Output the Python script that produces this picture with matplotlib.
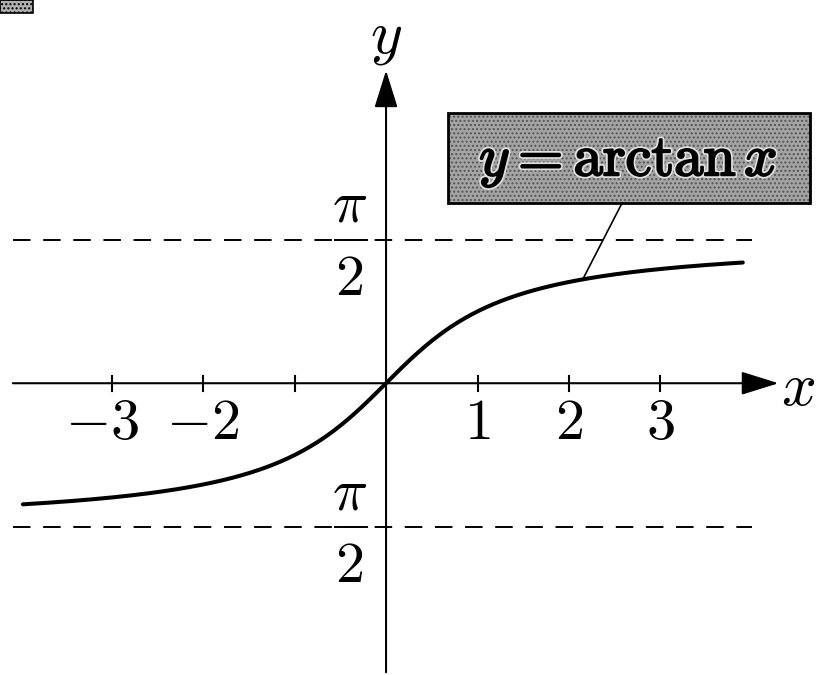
import numpy as np
import matplotlib
matplotlib.use("Agg")
import matplotlib.pyplot as plt
import matplotlib.patheffects as pe
from matplotlib.patches import Rectangle

plt.rcParams["mathtext.fontset"] = "cm"
plt.rcParams["font.family"] = "serif"
plt.rcParams["font.serif"] = ["DejaVu Serif"]

# --- data -------------------------------------------------------------
x_ticks = [-3, -2, -1, 1, 2, 3]
x_tick_labels = [r"$-3$", r"$-2$", "", r"$1$", r"$2$", r"$3$"]
curve_x = np.linspace(-3.97, 3.9, 400)
curve_y = np.arctan(curve_x)
asymptotes = [np.pi / 2, -np.pi / 2]
asym_labels = [r"$\pi$", r"$2$"]
label_point_x = 2.15          # where the leader line meets the curve

# view window in data units (1 unit ~ 91.5 px)
xlim = (-4.22, 4.70)
ylim = (-3.19, 4.19)

fig = plt.figure(figsize=(8.16, 6.75), dpi=100)
ax = fig.add_axes([0, 0, 1, 1])
ax.set_xlim(*xlim)
ax.set_ylim(*ylim)
ax.axis("off")

# axes with arrow heads
arrow = dict(arrowstyle="-|>,head_length=0.8,head_width=0.25",
             mutation_scale=29, lw=1.5, color="black", shrinkA=0, shrinkB=0)
ax.annotate("", xy=(4.29, 0), xytext=(-4.08, 0), arrowprops=arrow)
ax.annotate("", xy=(0, 3.42), xytext=(0, -3.16), arrowprops=arrow)

# tick marks and labels
for t, lab in zip(x_ticks, x_tick_labels):
    ax.plot([t, t], [-0.08, 0.08], color="black", lw=1.5)
    if lab:
        shift = -0.1 if t == -3 else 0.0
        ax.text(t + shift, -0.44, lab, ha="center", va="center", fontsize=42)

# dashed asymptotes with fraction-style labels
for a in asymptotes:
    ax.plot([-4.08, 4.0], [a, a], color="black", lw=1.4, dashes=(9, 6.5))
    ax.plot([-0.56, -0.21], [a, a], color="black", lw=1.4)
    ax.text(-0.4, a + 0.37, asym_labels[0], ha="center", va="center", fontsize=42)
    ax.text(-0.4, a - 0.43, asym_labels[1], ha="center", va="center", fontsize=42)

# the curve
ax.plot(curve_x, curve_y, color="black", lw=2.9, solid_capstyle="round")

# axis names
ax.text(0.0, 3.79, r"$y$", ha="center", va="center", fontsize=44)
ax.text(4.5, -0.05, r"$x$", ha="center", va="center", fontsize=44)

# shaded label box with leader line
box_x0, box_x1 = 0.68, 4.63
box_y0, box_y1 = 1.97, 2.96
ax.add_patch(Rectangle((box_x0, box_y0), box_x1 - box_x0, box_y1 - box_y0,
                       facecolor="#a4a4a4", edgecolor="#555555", hatch="....",
                       lw=0, zorder=3))
ax.add_patch(Rectangle((box_x0, box_y0), box_x1 - box_x0, box_y1 - box_y0,
                       facecolor="none", edgecolor="black", lw=2.0, zorder=4))
ax.text((box_x0 + box_x1) / 2 - 0.01, 2.43, r"$y = \mathrm{arctan}\, x$",
        ha="center", va="center", fontsize=42, zorder=5,
        path_effects=[pe.Stroke(linewidth=4, foreground="#e0e0e0"),
                      pe.Stroke(linewidth=1.5, foreground="black"),
                      pe.Normal()])
ax.plot([2.58, label_point_x], [box_y0, np.arctan(label_point_x)],
        color="black", lw=1.2)

# little scan mark in the corner
ax.add_patch(Rectangle((-4.22, 4.05), 0.36, 0.14, facecolor="#b0b0b0",
                       edgecolor="black", lw=1.2, hatch="...."))

fig.savefig("out.png", dpi=100)
